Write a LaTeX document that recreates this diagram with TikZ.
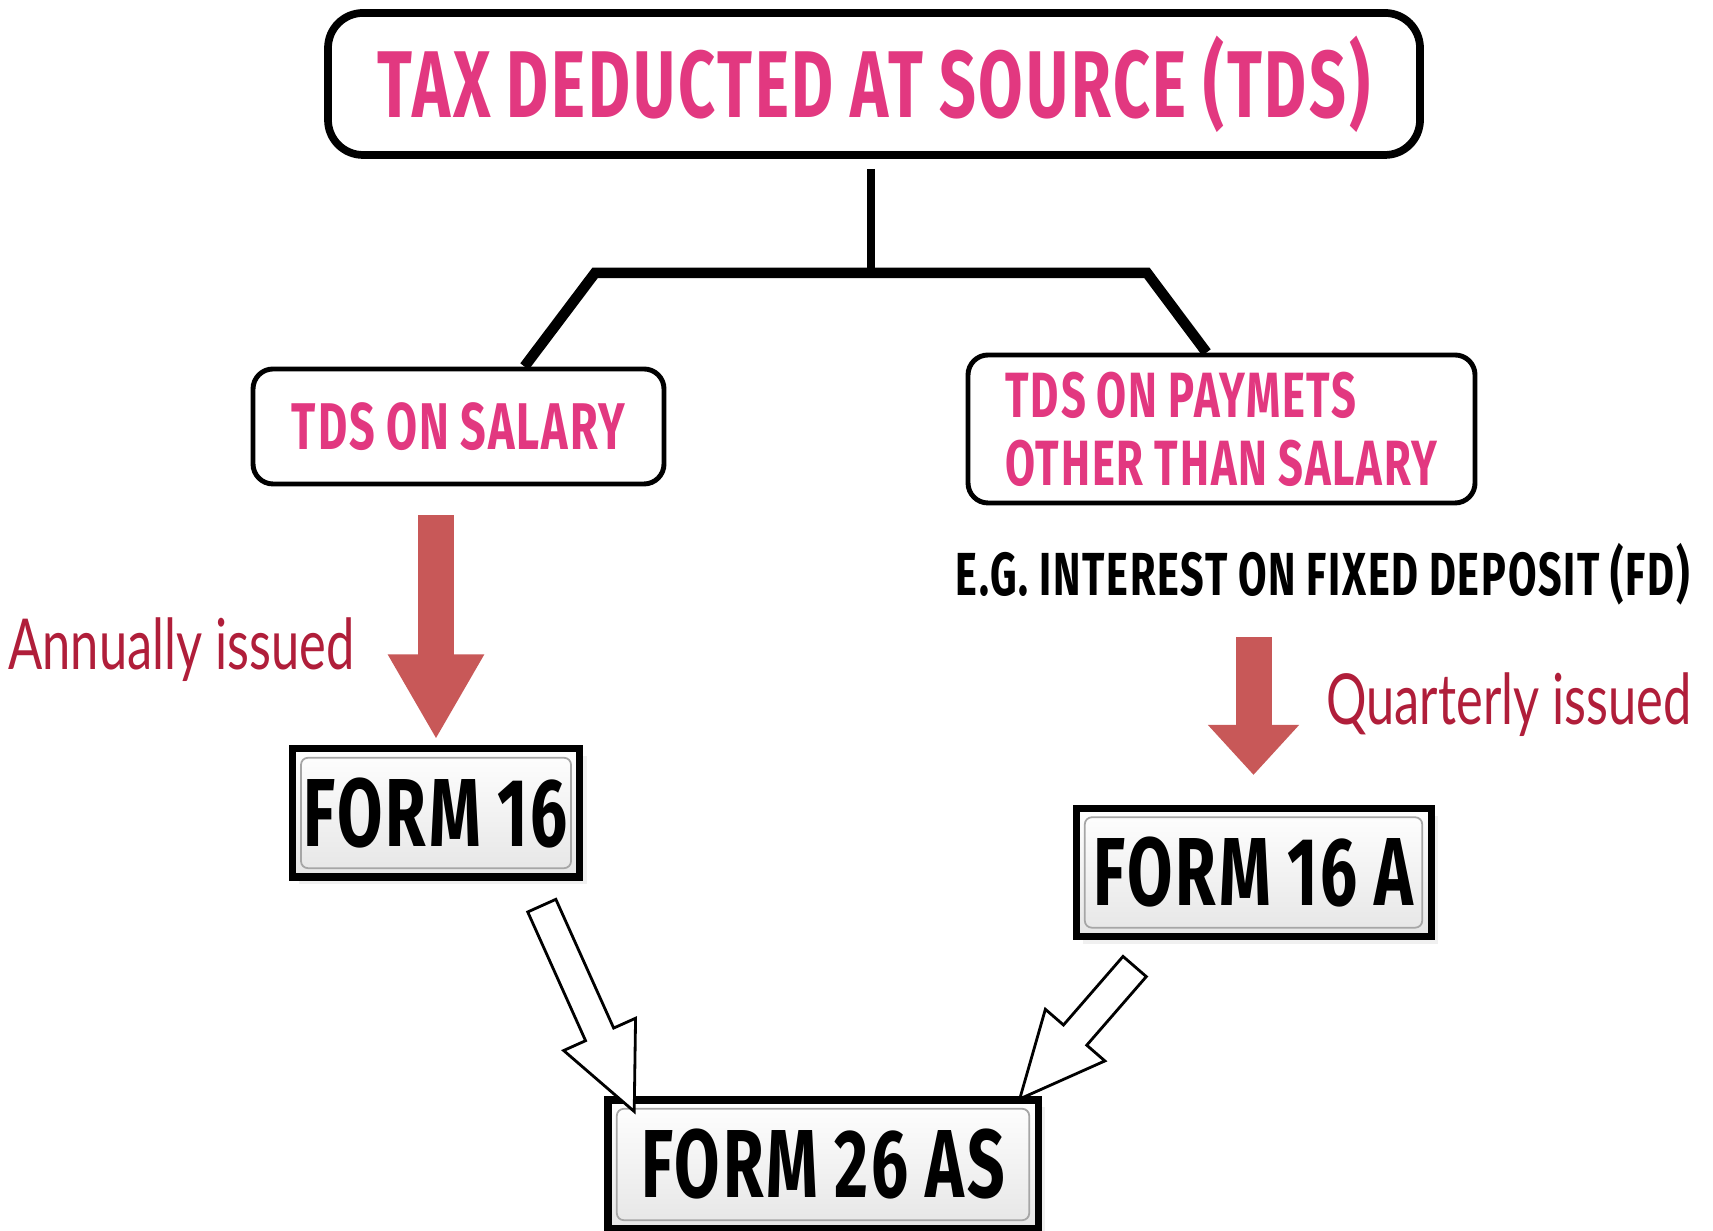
\documentclass[tikz,border=0pt]{standalone}
\usepackage{fontspec}
\usepackage{tikz}
\usetikzlibrary{arrows.meta, positioning, calc, shapes.arrows, shadows}

\newfontfamily\capsfont[FakeStretch=0.68, LetterSpace=3, WordSpace=0.9]{Fira Sans}
\newfontfamily\notefont[FakeStretch=0.72]{Lato}

\definecolor{tdspink}{RGB}{226,56,128}
\definecolor{arrowred}{RGB}{200,88,88}
\definecolor{notered}{RGB}{176,30,58}

% hollow block arrow between two named points
\newcommand{\feedarrow}[3]{%
  \path let \p1=($(#2)-(#1)$), \n1={atan2(\y1,\x1)}, \n2={veclen(\x1,\y1)} in
    node[hollow, minimum height=\n2, rotate=\n1] (#3) at ($(#1)!0.5!(#2)$) {};}

\begin{document}
\begin{tikzpicture}[
    headbox/.style={draw, line width=2.2pt, rounded corners=0.35cm, minimum width=10.92cm,
                minimum height=1.42cm, text=tdspink,
                font=\capsfont\bfseries\fontsize{27}{30}\selectfont},
    subbox/.style={draw, line width=1.4pt, rounded corners=0.2cm, text=tdspink,
                font=\capsfont\bfseries\fontsize{18.8}{23}\selectfont},
    formbox/.style={draw, line width=2pt, top color=white, bottom color=black!10,
                minimum height=1.28cm, font=\capsfont\bfseries\fontsize{27.5}{30}\selectfont,
                drop shadow={opacity=0.12, shadow xshift=2pt, shadow yshift=-2pt},
                path picture={\draw[black!35, line width=0.5pt, rounded corners=2pt]
                  ([shift={(2.5pt,2.5pt)}]path picture bounding box.south west) rectangle
                  ([shift={(-2.5pt,-2.5pt)}]path picture bounding box.north east);}},
    tree/.style={line width=3pt},
    issue/.style={line width=0.36cm, draw=arrowred, -{Triangle[width=0.9cm, length=0.85cm]}},
    note/.style={font=\notefont\fontsize{20}{24}\selectfont, text=notered},
    hollow/.style={single arrow, draw, fill=white, line width=0.8pt, inner sep=0.14cm,
                single arrow head extend=0.24cm, single arrow tip angle=50}
]
\useasboundingbox (0,0) rectangle (17.13,12.31);

\node[headbox] (tds) at (8.74,11.47) {TAX DEDUCTED AT SOURCE (TDS)};

\node[subbox, minimum width=4.11cm, minimum height=1.15cm] (salary) at (4.585,8.045)
    {TDS ON SALARY};
\node[subbox, minimum width=5.07cm, minimum height=1.48cm, align=left,
      font=\capsfont\bfseries\fontsize{18.2}{19.4}\selectfont] (other) at (12.215,8.02)
    {TDS ON PAYMETS\\OTHER THAN SALARY};
\node[font=\capsfont\bfseries\fontsize{17.3}{20}\selectfont] (eg) at (13.23,6.57)
    {E.G. INTEREST ON FIXED DEPOSIT (FD)};

\node[formbox, minimum width=2.86cm] (form16) at (4.36,4.18) {FORM 16};
\node[formbox, minimum width=3.55cm] (form16a) at (12.535,3.585) {FORM 16 A};
\node[formbox, minimum width=4.30cm, minimum height=1.29cm] (form26) at (8.23,0.665) {FORM 26 AS};

\node[note] (annual) at (1.815,5.81) {Annually issued};
\node[note] (quarter) at (15.09,5.26) {Quarterly issued};

% branching bracket under the heading
\coordinate (hub) at (8.71,9.58);
\coordinate (kneeL) at (5.95,9.58);
\coordinate (kneeR) at (11.47,9.58);
\draw[tree, line width=2.2pt, shorten <=0.1cm] (tds.south -| hub) -- (hub);
\draw[tree] ([xshift=6.6mm]salary.north) -- (kneeL) -- (kneeR) -- ([xshift=-1.5mm]other.north);

% issuing arrows
\draw[issue, shorten <=0.29cm, shorten >=0.06cm] (form16.north |- salary.south) -- (form16.north);
\draw[issue, -{Triangle[width=0.88cm, length=0.5cm]}, shorten <=0.2cm, shorten >=0.3cm]
    (form16a.north |- eg.south) -- (form16a.north);

% both forms feed into 26 AS
\coordinate (tail16) at ([xshift=9.9mm, yshift=-1mm]form16.south);
\coordinate (tip16) at ([xshift=2.3mm]form26.north west);
\coordinate (tail16a) at ([xshift=-10.8mm, yshift=-1.4mm]form16a.south);
\coordinate (tip16a) at ([xshift=-1.1mm, yshift=1mm]form26.north east);
\feedarrow{tail16}{tip16}{feed16}
\feedarrow{tail16a}{tip16a}{feed16a}
\end{tikzpicture}
\end{document}
